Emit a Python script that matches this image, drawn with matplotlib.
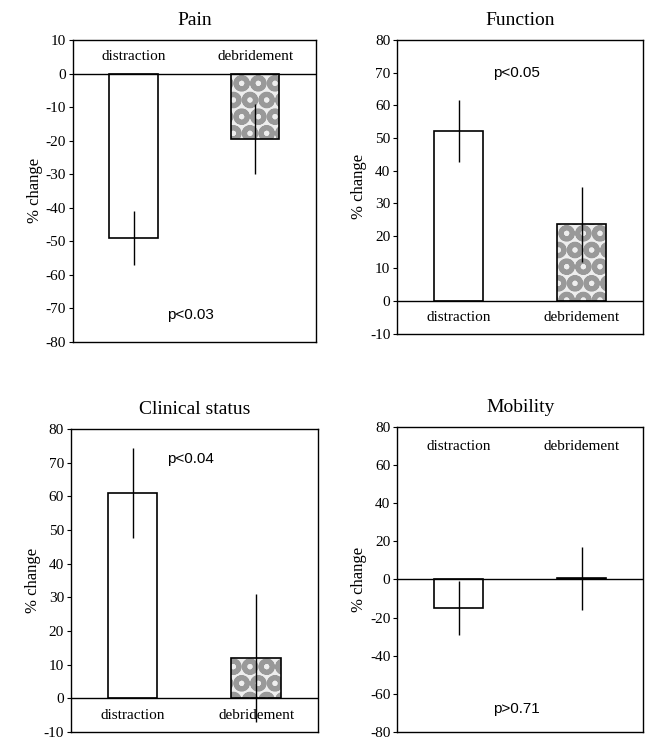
import numpy as np
import matplotlib.pyplot as plt

plt.rcParams['font.family'] = ['Liberation Serif', 'DejaVu Serif']
plt.rcParams['hatch.linewidth'] = 3.5

groups = ["distraction", "debridement"]

titles = ["Pain", "Function", "Clinical status", "Mobility"]
means = [[-49, -19.5], [52, 23.5], [61, 12], [-15, 0.5]]
errors = [[8, 10.5], [9.5, 11.5], [13.5, 19], [14, 16.5]]
ylims = [(-80, 10), (-10, 80), (-10, 80), (-80, 80)]
yticks = [np.arange(-80, 11, 10), np.arange(-10, 81, 10),
          np.arange(-10, 81, 10), np.arange(-80, 81, 20)]
pvalues = ["p<0.03", "p<0.05", "p<0.04", "p>0.71"]
pvalue_y = [-72, 70, 71, -68]
label_y = [5, -5, -5, 70]

# axes boxes in figure fractions
boxes = [[0.113, 0.538, 0.376, 0.408],
         [0.615, 0.549, 0.381, 0.397],
         [0.110, 0.011, 0.382, 0.409],
         [0.615, 0.011, 0.381, 0.412]]

fig = plt.figure(figsize=(6.46, 7.4), dpi=100)

x = np.arange(len(groups))
for i in range(4):
    ax = fig.add_axes(boxes[i])
    # speckled grey fill of the debridement bar
    ax.bar(x[1], means[i][1], width=0.4, color="#eeeeee",
           edgecolor="#999999", hatch="O", linewidth=0)
    ax.bar(x[0], means[i][0], width=0.4, color="white")
    ax.bar(x, means[i], width=0.4, fill=False, edgecolor="black",
           linewidth=1.2)
    ax.errorbar(x, means[i], yerr=errors[i], fmt="none", ecolor="black",
                elinewidth=1, capsize=0)
    ax.axhline(0, color="black", linewidth=1)
    ax.set_xlim(-0.5, 1.5)
    ax.set_ylim(*ylims[i])
    ax.set_yticks(yticks[i])
    ax.set_yticklabels([str(t) for t in yticks[i]], fontsize=11)
    ax.set_xticks([])
    ax.tick_params(axis="y", direction="out", length=3, pad=2)
    for s in ax.spines.values():
        s.set_linewidth(1)
    ax.set_title(titles[i], fontsize=14, pad=11)
    ax.set_ylabel("% change", fontsize=12, labelpad=2)
    for j, g in enumerate(groups):
        ax.text(x[j], label_y[i], g, ha="center", va="center", fontsize=11)
    ax.text(0.47, pvalue_y[i], pvalues[i], ha="center", va="center",
            fontsize=11, family=["Liberation Sans", "DejaVu Sans"])

fig.savefig("out.png", dpi=100)
